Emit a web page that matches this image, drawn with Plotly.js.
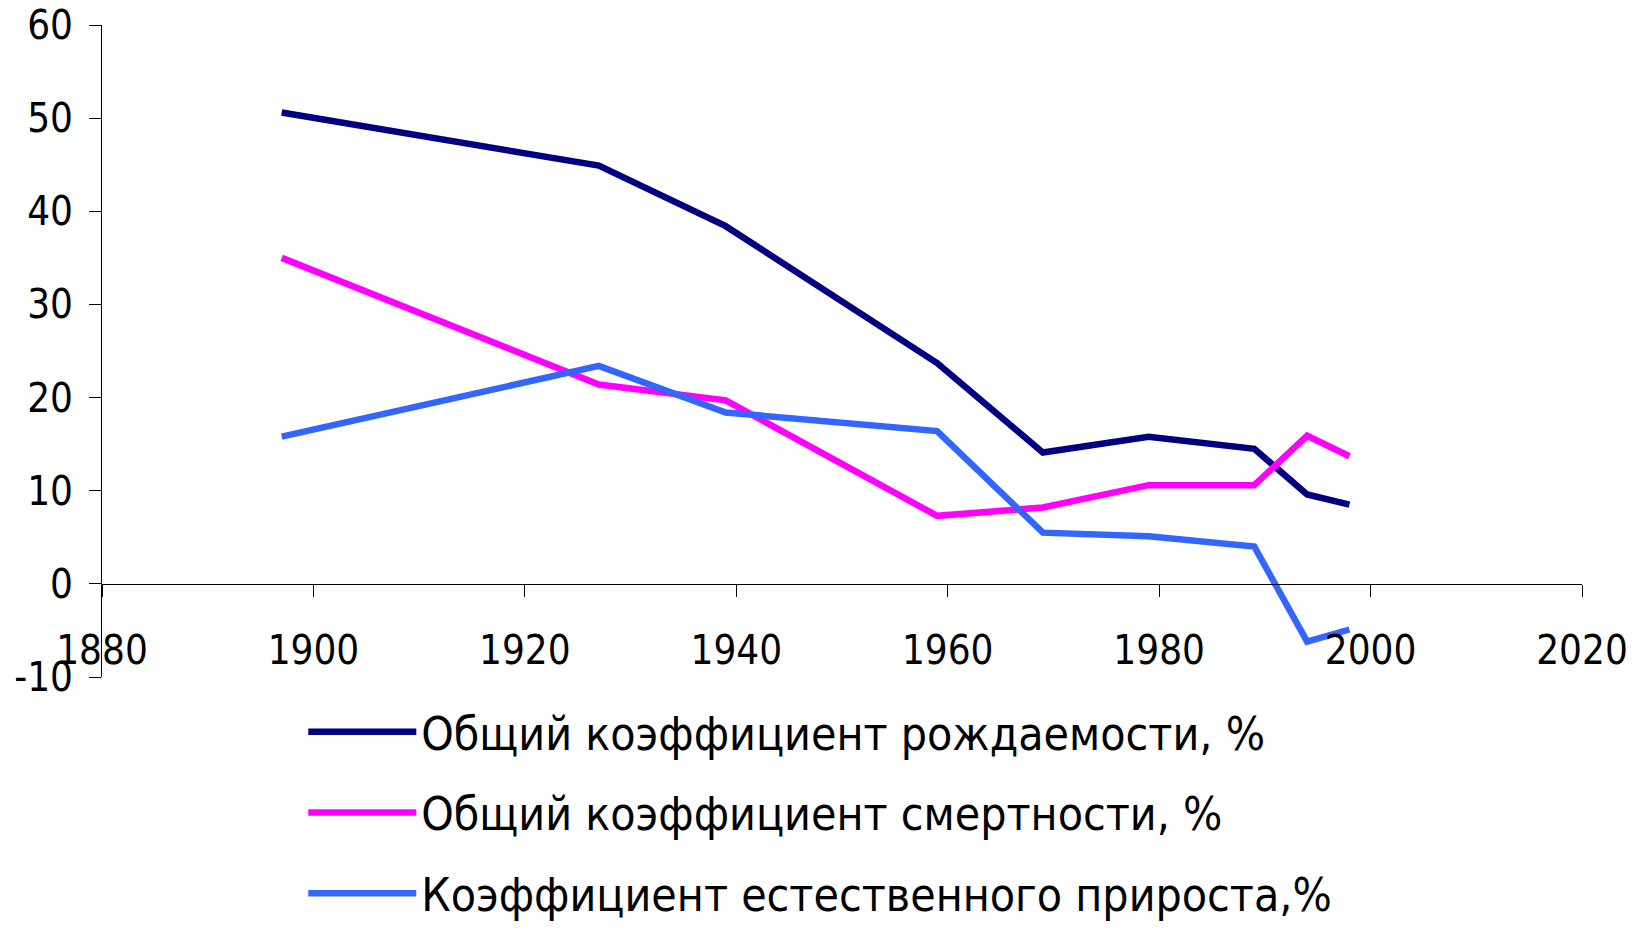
<!DOCTYPE html>
<html>
<head>
<meta charset="utf-8">
<script src="https://cdn.plot.ly/plotly-3.0.1.min.js"></script>
<style>html,body{margin:0;padding:0;background:#fff;}#chart{width:1650px;height:933px;}</style>
</head>
<body>
<div id="chart"></div>
<script>
var years = [1897, 1927, 1939, 1959, 1969, 1979, 1989, 1994, 1998];
var birthRate = [50.6, 44.9, 38.4, 23.7, 14.1, 15.8, 14.5, 9.6, 8.5];
var deathRate = [35.0, 21.4, 19.7, 7.3, 8.2, 10.6, 10.6, 15.9, 13.7];
var naturalIncrease = [15.8, 23.4, 18.4, 16.4, 5.5, 5.1, 4.0, -6.2, -4.9];
var seriesNames = [
  'Общий коэффициент рождаемости, %',
  'Общий коэффициент смертности, %',
  'Коэффициент естественного прироста,%'
];
var seriesColors = ['#000080', '#FF00FF', '#3366FF'];
var yTickValues = [-10, 0, 10, 20, 30, 40, 50, 60];
var yTickLabels = ['-10', '0', '10', '20', '30', '40', '50', '60'];

var FONT = '"DejaVu Sans Condensed", "DejaVu Sans", sans-serif';
var seriesValues = [birthRate, deathRate, naturalIncrease];
var traces = seriesValues.map(function (vals, i) {
  return {
    x: years, y: vals, type: 'scatter', mode: 'lines',
    name: seriesNames[i], legendgroup: 'g' + i,
    line: {color: seriesColors[i], width: 6.5}
  };
});

var layout = {
  width: 1650, height: 933,
  margin: {l: 102, r: 68, t: 25, b: 256, autoexpand: false},
  paper_bgcolor: '#fff', plot_bgcolor: '#fff',
  showlegend: true,
  font: {family: FONT, color: '#000'},
  xaxis: {
    range: [1880, 2020], dtick: 20, tick0: 1880,
    showgrid: false, zeroline: false,
    showline: true, linecolor: '#000', linewidth: 1,
    ticks: 'outside', ticklen: 12, tickcolor: '#000',
    anchor: 'free', position: 1 / 7,
    ticklabelstandoff: 19,
    tickfont: {family: FONT, size: 40, color: '#000'}
  },
  yaxis: {
    range: [-10, 60],
    tickmode: 'array', tickvals: yTickValues, ticktext: yTickLabels,
    showgrid: false, zeroline: false,
    showline: true, linecolor: '#000', linewidth: 1,
    ticks: 'outside', ticklen: 12, tickcolor: '#000',
    ticklabelstandoff: 8,
    tickfont: {family: FONT, size: 40, color: '#000'}
  },
  legend: {
    x: 0.136, y: -0.028, xanchor: 'left', yanchor: 'top',
    orientation: 'v', tracegroupgap: 18, itemwidth: 108,
    bgcolor: 'rgba(0,0,0,0)',
    font: {family: FONT, size: 46, color: '#000'}
  }
};

Plotly.newPlot('chart', traces, layout, {displayModeBar: false, staticPlot: true});
</script>
</body>
</html>
